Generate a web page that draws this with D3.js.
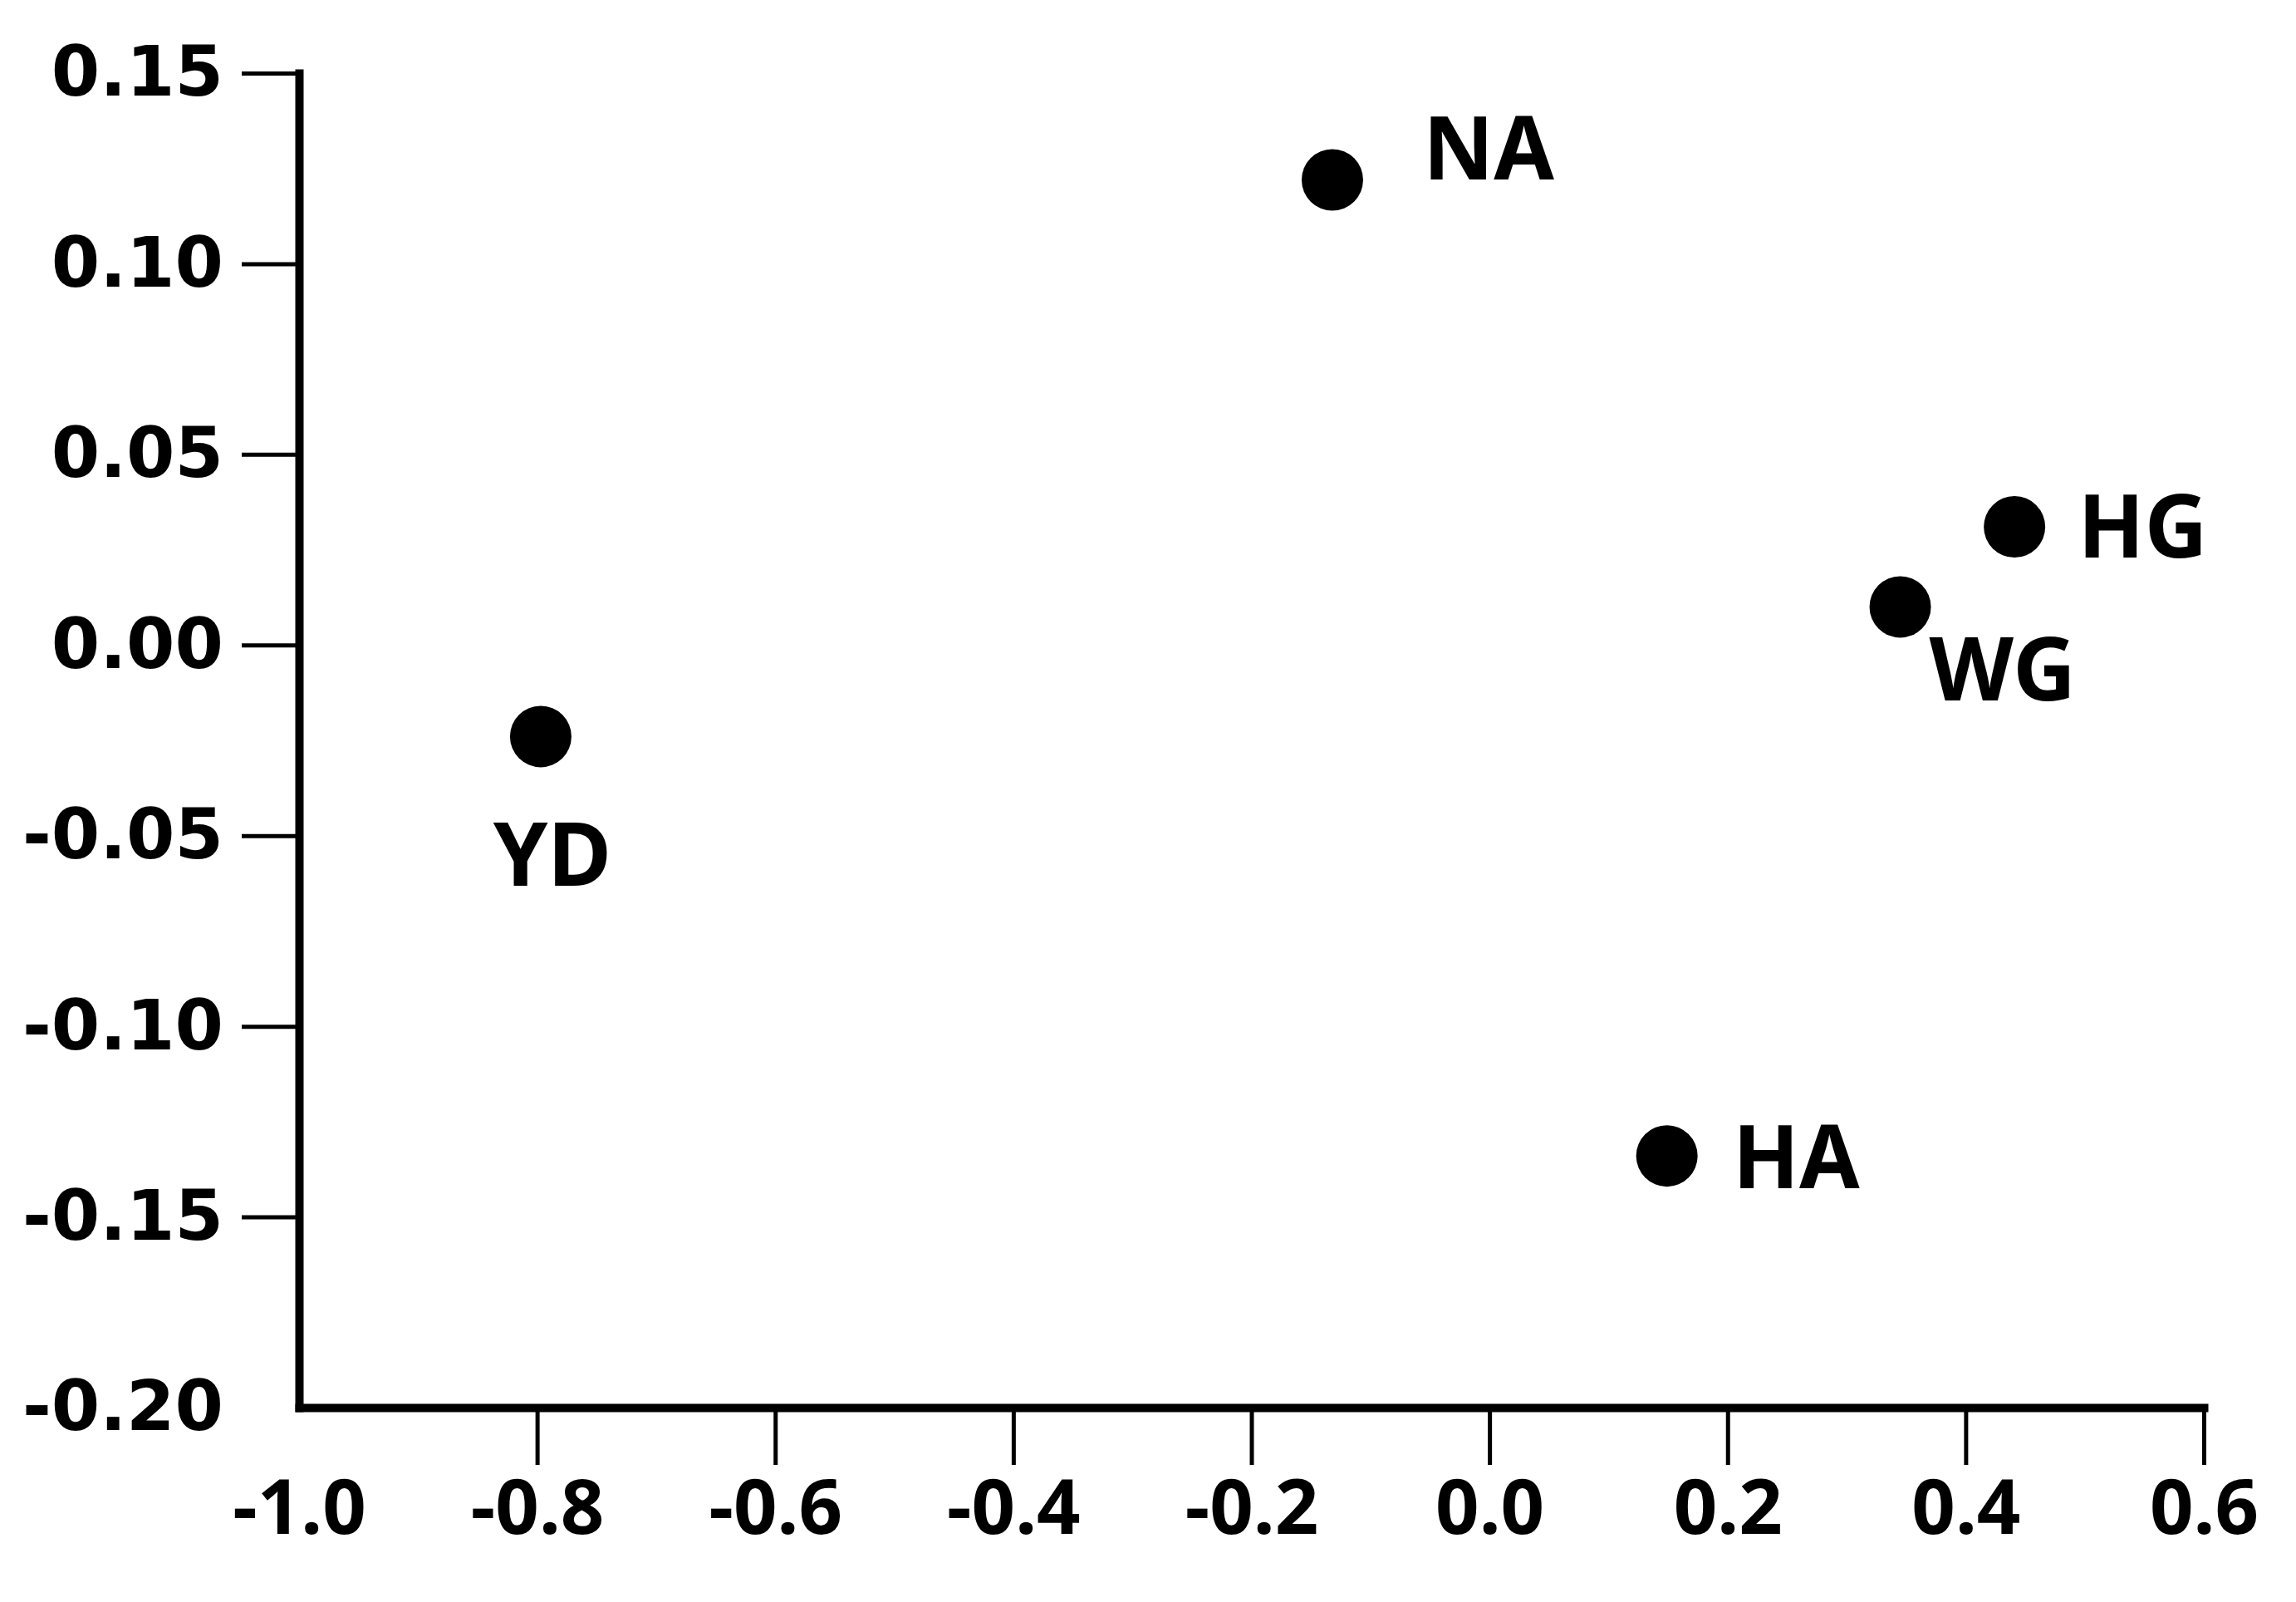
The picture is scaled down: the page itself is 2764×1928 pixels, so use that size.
<!DOCTYPE html>
<html>
<head>
<meta charset="utf-8">
<script src="https://cdn.jsdelivr.net/npm/d3@7"></script>
<style>
  html, body { margin: 0; padding: 0; background: #fff; }
</style>
</head>
<body>
<div class="canvas"></div>
<script>
// site names and their scores on the two axes
const sites = ['NA', 'HG', 'WG', 'YD', 'HA'];
const xScores = [-0.132, 0.441, 0.345, -0.797, 0.149];
const yScores = [0.122, 0.031, 0.010, -0.024, -0.134];

const xTicks = [-1.0, -0.8, -0.6, -0.4, -0.2, 0.0, 0.2, 0.4, 0.6];
const yTicks = [0.15, 0.10, 0.05, 0.00, -0.05, -0.10, -0.15, -0.20];

// where each label sits relative to its dot
const labelOffset = {
  NA: { dx: 109, dy: 0, anchor: 'start' },
  HG: { dx: 76, dy: 37, anchor: 'start' },
  WG: { dx: 35, dy: 113, anchor: 'start' },
  YD: { dx: 14, dy: 180, anchor: 'middle' },
  HA: { dx: 79, dy: 39, anchor: 'start' }
};

const dims = { width: 2764, height: 1928 };
const plot = { left: 360, right: 2653, top: 88, bottom: 1694 };

const svg = d3.select('.canvas')
  .append('svg')
  .attr('width', dims.width)
  .attr('height', dims.height);

const x = d3.scaleLinear()
  .domain([-1.0, 0.6])
  .range([plot.left, plot.right]);

const y = d3.scaleLinear()
  .domain([-0.20, 0.15])
  .range([plot.bottom, plot.top]);

// y axis
const yAxis = svg.append('g')
  .attr('transform', `translate(${plot.left}, 0)`)
  .call(d3.axisLeft(y)
    .tickValues(yTicks)
    .tickSize(69)
    .tickSizeOuter(0)
    .tickPadding(22)
    .tickFormat(d => d.toFixed(2)));

// x axis
const xAxis = svg.append('g')
  .attr('transform', `translate(0, ${plot.bottom})`)
  .call(d3.axisBottom(x)
    .tickValues(xTicks)
    .tickSize(69)
    .tickSizeOuter(0)
    .tickPadding(18)
    .tickFormat(d => d.toFixed(1)));

[yAxis, xAxis].forEach(ax => {
  ax.select('.domain')
    .attr('stroke', '#000')
    .attr('stroke-width', 10)
    .attr('stroke-linecap', 'square');
  ax.selectAll('.tick line')
    .attr('stroke', '#000')
    .attr('stroke-width', 5);
});

// the corner ticks are not drawn
yAxis.selectAll('.tick line').filter(d => d === -0.20).remove();
xAxis.selectAll('.tick line').filter(d => d === -1.0).remove();

yAxis.selectAll('.tick text')
  .attr('fill', '#000')
  .style('font-family', '"DejaVu Sans", sans-serif')
  .style('font-weight', 'bold')
  .style('font-size', '84px');

xAxis.selectAll('.tick text')
  .attr('fill', '#000')
  .style('font-family', '"Noto Sans", sans-serif')
  .style('font-weight', 'bold')
  .style('font-size', '92px');

const points = sites.map((s, i) => ({ name: s, x: xScores[i], y: yScores[i] }));

const graph = svg.append('g');

graph.selectAll('circle')
  .data(points)
  .enter()
  .append('circle')
  .attr('cx', d => x(d.x))
  .attr('cy', d => y(d.y))
  .attr('r', 37)
  .attr('fill', '#000');

graph.selectAll('text')
  .data(points)
  .enter()
  .append('text')
  .attr('x', d => x(d.x) + labelOffset[d.name].dx)
  .attr('y', d => y(d.y) + labelOffset[d.name].dy)
  .attr('text-anchor', d => labelOffset[d.name].anchor)
  .attr('fill', '#000')
  .style('font-family', '"Noto Sans", sans-serif')
  .style('font-weight', 'bold')
  .style('font-size', '105px')
  .text(d => d.name);
</script>
</body>
</html>
